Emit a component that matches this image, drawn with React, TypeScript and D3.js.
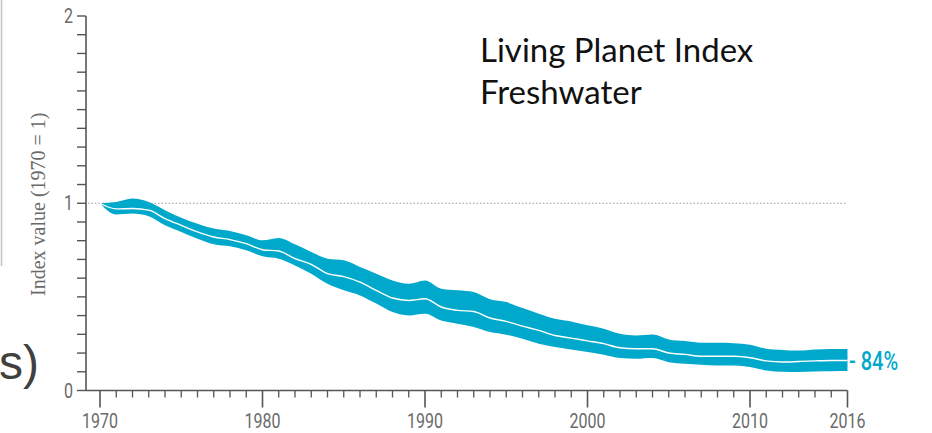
import React from "react";
import * as d3 from "d3";

// Freshwater Living Planet Index, 1970 = 1, with confidence band
const years: number[] = d3.range(1970, 2017);
const indexMid: number[] = [
  1.0, 0.97, 0.972, 0.963, 0.918, 0.882, 0.847, 0.82, 0.806, 0.784,
  0.752, 0.745, 0.704, 0.674, 0.624, 0.608, 0.579, 0.535, 0.494, 0.481,
  0.49, 0.446, 0.428, 0.422, 0.387, 0.369, 0.344, 0.321, 0.294, 0.28,
  0.265, 0.25, 0.228, 0.223, 0.223, 0.2, 0.193, 0.183, 0.183, 0.183,
  0.175, 0.158, 0.152, 0.155, 0.158, 0.16, 0.16,
];
const indexLow: number[] = [
  1.0, 0.94, 0.945, 0.93, 0.882, 0.847, 0.811, 0.781, 0.77, 0.749,
  0.717, 0.704, 0.668, 0.624, 0.57, 0.535, 0.508, 0.464, 0.419, 0.401,
  0.41, 0.374, 0.357, 0.339, 0.312, 0.298, 0.276, 0.25, 0.232, 0.219,
  0.205, 0.191, 0.173, 0.169, 0.173, 0.151, 0.143, 0.137, 0.134, 0.134,
  0.125, 0.107, 0.1, 0.099, 0.102, 0.103, 0.104,
];
const indexHigh: number[] = [
  1.0, 1.007, 1.025, 1.007, 0.963, 0.923, 0.891, 0.865, 0.852, 0.829,
  0.802, 0.815, 0.781, 0.74, 0.704, 0.695, 0.66, 0.624, 0.588, 0.57,
  0.588, 0.544, 0.535, 0.526, 0.487, 0.472, 0.44, 0.41, 0.383, 0.369,
  0.348, 0.33, 0.303, 0.294, 0.299, 0.273, 0.264, 0.255, 0.255, 0.253,
  0.244, 0.223, 0.216, 0.213, 0.219, 0.221, 0.222,
];
const xTickLabels: number[] = [1970, 1980, 1990, 2000, 2010, 2016];
const yTickLabels: number[] = [0, 1, 2];
const titleLines: string[] = ["Living Planet Index", "Freshwater"];
const yAxisTitle = "Index value (1970 = 1)";

const BAND = "#00a9cc";
const AXIS = "#555";
const LABEL = "#6a6a6a";
const CONDENSED = "Roboto, 'Liberation Sans', sans-serif";
const SQUEEZE = 0.8;

// Condensed label: Roboto squeezed horizontally around its anchor point
function NarrowText(props: {
  x: number;
  y: number;
  anchor?: "start" | "middle" | "end";
  size: number;
  fill: string;
  weight?: number;
  children: React.ReactNode;
}) {
  const { x, y, anchor = "start", size, fill, weight = 400, children } = props;
  return (
    <text
      transform={`translate(${x}, ${y}) scale(${SQUEEZE}, 1)`}
      textAnchor={anchor}
      fontFamily={CONDENSED}
      fontSize={size}
      fontWeight={weight}
      fill={fill}
    >
      {children}
    </text>
  );
}

export default function App() {
  const W = 932;
  const H = 433;
  const x = d3.scaleLinear().domain([1970, 2016]).range([100, 847.5]);
  const y = d3.scaleLinear().domain([0, 2]).range([390.5, 16]);
  const axisX = 86;

  const rows = years.map((yr, i) => ({
    yr,
    mid: indexMid[i],
    lo: indexLow[i],
    hi: indexHigh[i],
  }));

  const band = d3
    .area<(typeof rows)[number]>()
    .x((d) => x(d.yr))
    .y0((d) => y(d.lo))
    .y1((d) => y(d.hi))
    .curve(d3.curveMonotoneX)(rows) as string;

  const midLine = d3
    .line<(typeof rows)[number]>()
    .x((d) => x(d.yr))
    .y((d) => y(d.mid))
    .curve(d3.curveMonotoneX)(rows) as string;

  const minorY = d3.range(0, 21).map((k) => k / 10);
  const last = indexMid[indexMid.length - 1];
  const changeLabel = `- ${Math.round((1 - last) * 100)}%`;

  return (
    <svg
      width={W}
      height={H}
      style={{ position: "absolute", left: 0, top: 0, background: "#fff" }}
    >
      {/* frame edge at the far left */}
      <line x1={1.5} x2={1.5} y1={0} y2={266} stroke="#c4c4c4" strokeWidth={1.5} />
      <text
        x={-1}
        y={379}
        fontFamily="'Liberation Sans', Arial, sans-serif"
        fontSize={48}
        fill="#404040"
      >
        s)
      </text>

      {/* title */}
      {titleLines.map((t, i) => (
        <text
          key={t}
          x={480}
          y={62 + i * 42}
          fontFamily="Lato, 'Open Sans', sans-serif"
          fontSize={33}
          fill="#111"
        >
          {t}
        </text>
      ))}

      {/* baseline reference at 1970 level */}
      <line
        x1={axisX + 2}
        x2={x(2016)}
        y1={y(1)}
        y2={y(1)}
        stroke="#999"
        strokeWidth={1}
        strokeDasharray="1.5 2"
      />

      {/* confidence band and index line */}
      <path d={band} fill={BAND} />
      <path d={midLine} fill="none" stroke="#fff" strokeWidth={1.4} />

      {/* y axis */}
      <line x1={axisX} x2={axisX} y1={y(2)} y2={y(0)} stroke={AXIS} strokeWidth={1.6} />
      {minorY.map((v) => (
        <line
          key={v}
          x1={axisX - 9}
          x2={axisX}
          y1={y(v)}
          y2={y(v)}
          stroke={AXIS}
          strokeWidth={1.4}
        />
      ))}
      {yTickLabels.map((v) => (
        <NarrowText key={v} x={73} y={y(v) + 7} anchor="end" size={20} fill={LABEL}>
          {v}
        </NarrowText>
      ))}
      <text
        transform={`translate(45, ${y(1) + 1}) rotate(-90)`}
        textAnchor="middle"
        fontFamily="'Liberation Serif', 'Times New Roman', serif"
        fontSize={20}
        fill={LABEL}
      >
        {yAxisTitle}
      </text>

      {/* x axis */}
      <line x1={axisX} x2={x(2016)} y1={y(0)} y2={y(0)} stroke={AXIS} strokeWidth={1.6} />
      {years.map((yr) => {
        const major = xTickLabels.includes(yr);
        return (
          <line
            key={yr}
            x1={x(yr)}
            x2={x(yr)}
            y1={y(0)}
            y2={y(0) + (major ? 17 : 7)}
            stroke={AXIS}
            strokeWidth={major ? 1.6 : 1.3}
          />
        );
      })}
      {xTickLabels.map((yr) => (
        <NarrowText key={yr} x={x(yr)} y={428} anchor="middle" size={20} fill={LABEL}>
          {yr}
        </NarrowText>
      ))}

      {/* overall change label */}
      <NarrowText x={849} y={y(last) + 9} size={25} weight={500} fill={BAND}>
        {changeLabel}
      </NarrowText>
    </svg>
  );
}
